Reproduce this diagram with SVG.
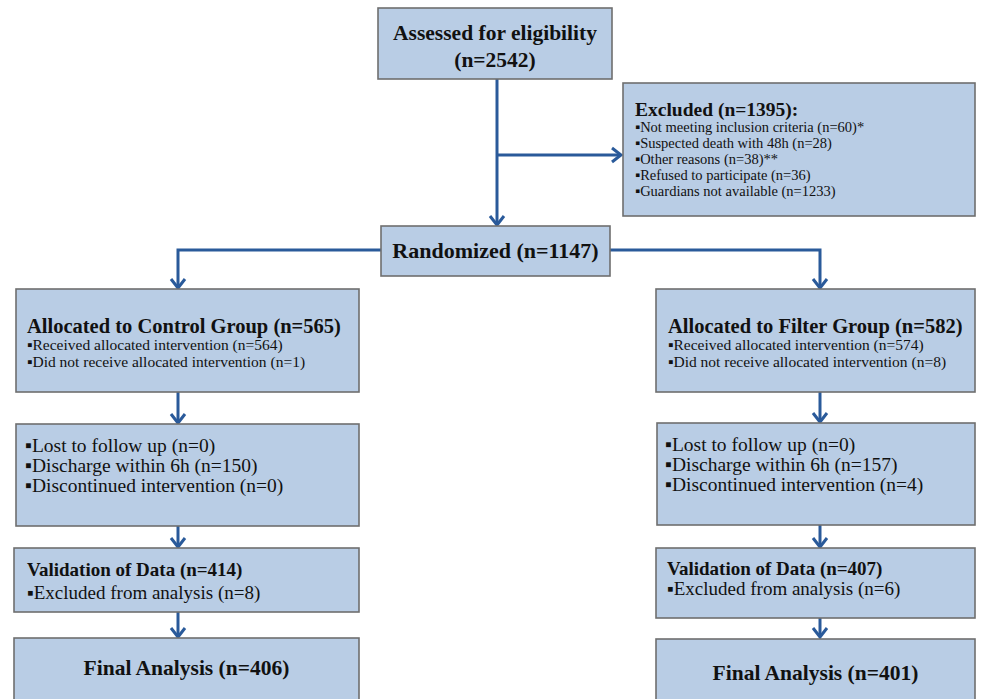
<svg xmlns="http://www.w3.org/2000/svg" width="984" height="699" viewBox="0 0 984 699">
<style>
.box{fill:#b9cde5;stroke:#6f6f6f;stroke-width:1.6}
.t{font-family:"Liberation Serif","Times New Roman",serif;fill:#111}
.b{font-weight:bold}
.c{text-anchor:middle}
.ln{fill:none;stroke:#2a5a9a;stroke-width:3}
</style>
<defs>
<marker id="ah" markerUnits="userSpaceOnUse" markerWidth="24" markerHeight="24" refX="0" refY="0" viewBox="-12 -12 24 24" orient="auto" overflow="visible">
<path d="M-9,-7 L0,0 L-9,7" fill="none" stroke="#2a5a9a" stroke-width="3" stroke-linejoin="miter"/>
</marker>
</defs>
<rect width="984" height="699" fill="#ffffff"/>
<g id="connectors">
<path class="ln" d="M497,79 V225" marker-end="url(#ah)"/>
<path class="ln" d="M497,155 H621" marker-end="url(#ah)"/>
<path class="ln" d="M381,250 H178 V288" marker-end="url(#ah)"/>
<path class="ln" d="M610,250 H820 V288" marker-end="url(#ah)"/>
<path class="ln" d="M178,392 V423" marker-end="url(#ah)"/>
<path class="ln" d="M178,526 V547" marker-end="url(#ah)"/>
<path class="ln" d="M178,612 V637" marker-end="url(#ah)"/>
<path class="ln" d="M820,392 V422" marker-end="url(#ah)"/>
<path class="ln" d="M820,525 V547" marker-end="url(#ah)"/>
<path class="ln" d="M820,618 V637" marker-end="url(#ah)"/>
</g>
<g id="assessed">
<rect class="box" x="378" y="8" width="234" height="71"/>
<text class="t b c" x="495" y="40" font-size="21.5">Assessed for eligibility</text>
<text class="t b c" x="495" y="67" font-size="21.5">(n=2542)</text>
</g>
<g id="excluded">
<rect class="box" x="623" y="83" width="352" height="133"/>
<text class="t b" x="635" y="116" font-size="19.5">Excluded (n=1395):</text>
<text class="t" x="635" y="132" font-size="14.5">▪Not meeting inclusion criteria (n=60)*</text>
<text class="t" x="635" y="148" font-size="14.5">▪Suspected death with 48h (n=28)</text>
<text class="t" x="635" y="164" font-size="14.5">▪Other reasons (n=38)**</text>
<text class="t" x="635" y="180" font-size="14.5">▪Refused to participate (n=36)</text>
<text class="t" x="635" y="196" font-size="14.5">▪Guardians not available (n=1233)</text>
</g>
<g id="randomized">
<rect class="box" x="381" y="226" width="229" height="50"/>
<text class="t b c" x="495.5" y="258" font-size="22">Randomized (n=1147)</text>
</g>
<g id="control">
<rect class="box" x="16" y="289" width="343" height="103"/>
<text class="t b" x="27" y="333" font-size="20.5">Allocated to Control Group (n=565)</text>
<text class="t" x="27" y="350" font-size="15.5">▪Received allocated intervention (n=564)</text>
<text class="t" x="27" y="367" font-size="15.5">▪Did not receive allocated intervention (n=1)</text>
</g>
<g id="filter">
<rect class="box" x="656" y="289" width="319" height="103"/>
<text class="t b" x="668" y="333" font-size="20.5">Allocated to Filter Group (n=582)</text>
<text class="t" x="668" y="350" font-size="15.5">▪Received allocated intervention (n=574)</text>
<text class="t" x="668" y="367" font-size="15.5">▪Did not receive allocated intervention (n=8)</text>
</g>
<g id="followup-control">
<rect class="box" x="16" y="424" width="343" height="102"/>
<text class="t" x="25" y="452" font-size="19.5">▪Lost to follow up (n=0)</text>
<text class="t" x="25" y="472" font-size="19.5">▪Discharge within 6h (n=150)</text>
<text class="t" x="25" y="492" font-size="19.5">▪Discontinued intervention (n=0)</text>
</g>
<g id="followup-filter">
<rect class="box" x="657" y="423" width="318" height="102"/>
<text class="t" x="665" y="451" font-size="19.5">▪Lost to follow up (n=0)</text>
<text class="t" x="665" y="471" font-size="19.5">▪Discharge within 6h (n=157)</text>
<text class="t" x="665" y="491" font-size="19.5">▪Discontinued intervention (n=4)</text>
</g>
<g id="validation-control">
<rect class="box" x="14" y="548" width="345" height="64"/>
<text class="t b" x="27" y="576" font-size="19">Validation of Data (n=414)</text>
<text class="t" x="27" y="599" font-size="19">▪Excluded from analysis (n=8)</text>
</g>
<g id="validation-filter">
<rect class="box" x="656" y="548" width="319" height="70"/>
<text class="t b" x="667" y="575" font-size="19">Validation of Data (n=407)</text>
<text class="t" x="667" y="595" font-size="19">▪Excluded from analysis (n=6)</text>
</g>
<g id="final-control">
<rect class="box" x="14" y="638" width="345" height="72"/>
<text class="t b c" x="186.5" y="675" font-size="21.5">Final Analysis (n=406)</text>
</g>
<g id="final-filter">
<rect class="box" x="656" y="639" width="319" height="71"/>
<text class="t b c" x="815.5" y="680" font-size="21.5">Final Analysis (n=401)</text>
</g>
</svg>
